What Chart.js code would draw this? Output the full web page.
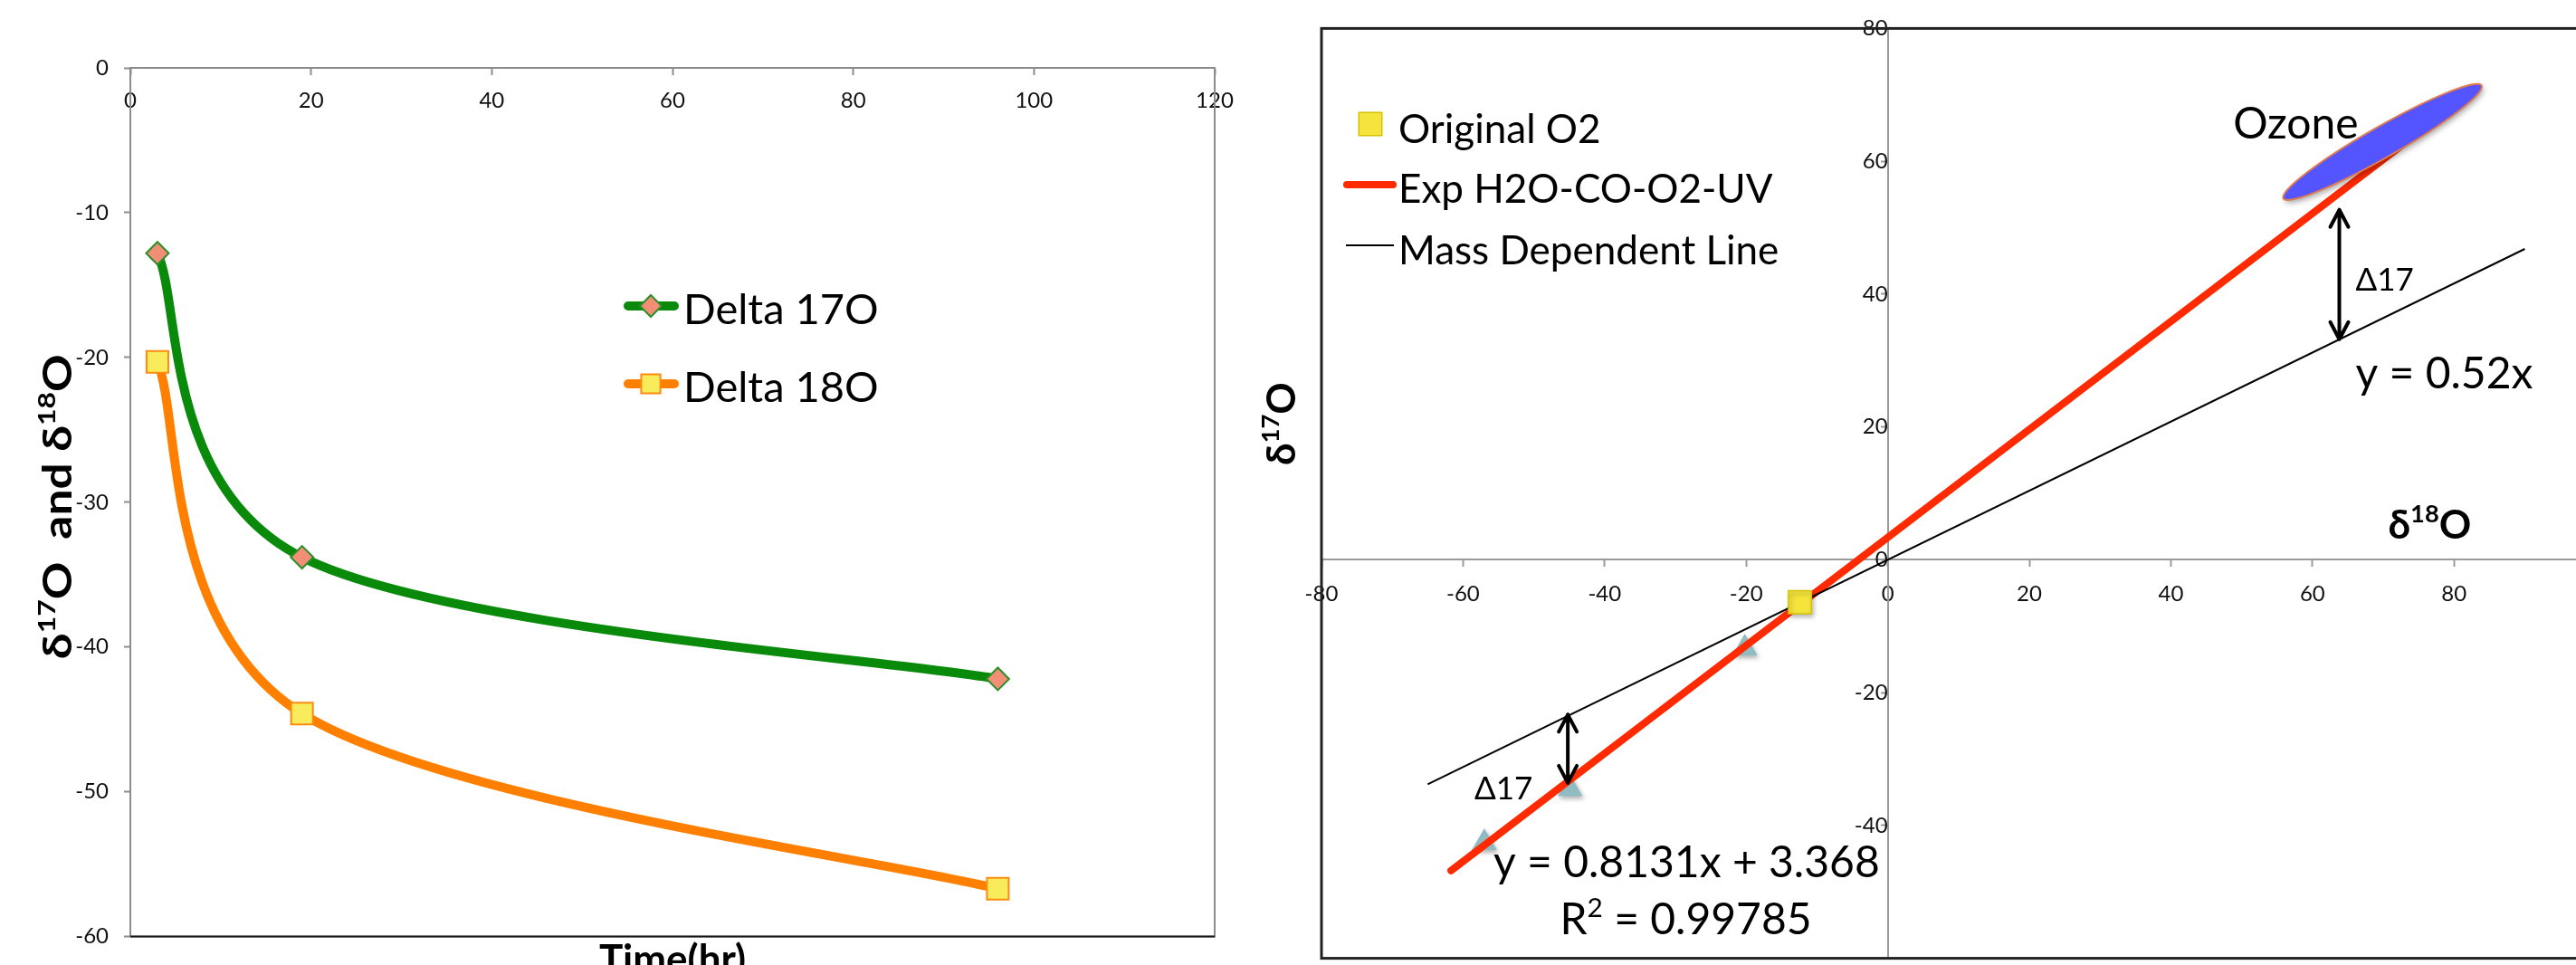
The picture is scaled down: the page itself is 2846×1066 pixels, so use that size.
<!DOCTYPE html>
<html>
<head>
<meta charset="utf-8">
<title>Oxygen isotope charts</title>
<script src="https://cdn.jsdelivr.net/npm/chart.js"></script>
<style>
  html, body { margin: 0; padding: 0; background: #fff; }
  body { width: 2846px; height: 1066px; overflow: hidden; position: relative; }
  canvas { position: absolute; top: 0; }
  #timeChart { left: 0; }
  #isoChart { left: 1380px; }
</style>
</head>
<body>
<canvas id="timeChart" width="1420" height="1066"></canvas>
<canvas id="isoChart" width="1520" height="1090"></canvas>
<script>
// left panel: delta values against time
const hours = [3, 19, 96];
const delta17 = [-12.8, -33.8, -42.2];
const delta18 = [-20.3, -44.6, -56.7];
const timeTicks = [0, 20, 40, 60, 80, 100, 120];
const deltaTicks = [0, -10, -20, -30, -40, -50, -60];

// right panel: three-isotope plot
const o2X = [-12.4];
const o2Y = [-6.4];
const expX = [-57.0, -44.9, -20.2];
const expY = [-42.6, -34.5, -13.3];
const fitX = [-61.7, 80.0];
const fitY = [-46.8, 68.4];
const mdlX = [-65.0, 90.0];
const mdlY = [-33.8, 46.8];
// the picture is cropped, so -60 and 100 fall outside it
const d18Ticks = [-80, -60, -40, -20, 0, 20, 40, 60, 80];
const d17Ticks = [-40, -20, 0, 20, 40, 60, 80];

// drawn shapes on the right panel, in data units
const ozoneEnds = { x: [55.9, 83.9], y: [54.4, 71.4] };
const arrows = [
  { x: -45.2, top: -23.3, bottom: -33.6 },
  { x: 63.8, top: 52.7, bottom: 33.2 }
];
const notes = [
  { parts: [['Ozone']], x: 48.8, y: 65.8, size: 48 },
  { parts: [['Δ17']], x: 66.1, y: 42.2, size: 35 },
  { parts: [['y = 0.52x']], x: 66.1, y: 28.2, size: 48 },
  { parts: [['Δ17']], x: -58.4, y: -34.4, size: 35 },
  { parts: [['y = 0.8131x + 3.368']], x: -55.7, y: -45.4, size: 48 },
  { parts: [['R'], ['2', 1], [' = 0.99785']], x: -46.3, y: -54.0, size: 48 },
  { parts: [['δ'], ['18', 1], ['O']], x: 70.7, y: 5.4, size: 44, weight: 'bold' }
];

const FONT = 'Lato, "Open Sans", sans-serif';
Chart.defaults.font.family = FONT;
Chart.defaults.color = '#111';
Chart.defaults.animation = false;

function toXY(xs, ys) {
  return xs.map((x, i) => ({ x: x, y: ys[i] }));
}

// rich text: parts are [text, isSuperscript]; y is the middle of the capitals
function partsWidth(ctx, parts, size, weight) {
  let w = 0;
  parts.forEach(([t, sup]) => {
    ctx.font = `${weight} ${sup ? size * 0.62 : size}px ${FONT}`;
    w += ctx.measureText(t).width;
  });
  return w;
}

function drawParts(ctx, parts, x, y, size, weight, align) {
  weight = weight || 'normal';
  const w = partsWidth(ctx, parts, size, weight);
  let cx = align === 'center' ? x - w / 2 : x;
  const base = y + size * 0.358;
  ctx.textAlign = 'left';
  ctx.textBaseline = 'alphabetic';
  parts.forEach(([t, sup]) => {
    ctx.font = `${weight} ${sup ? size * 0.62 : size}px ${FONT}`;
    ctx.fillText(t, cx, sup ? base - size * 0.4 : base);
    cx += ctx.measureText(t).width;
  });
}

function drawMarker(ctx, style, x, y, r, fill, stroke, lw) {
  ctx.beginPath();
  if (style === 'rectRot') {
    ctx.moveTo(x, y - r);
    ctx.lineTo(x + r, y);
    ctx.lineTo(x, y + r);
    ctx.lineTo(x - r, y);
    ctx.closePath();
  } else {
    const h = r * Math.SQRT1_2;
    ctx.rect(x - h, y - h, 2 * h, 2 * h);
  }
  ctx.fillStyle = fill;
  ctx.fill();
  if (lw) {
    ctx.lineWidth = lw;
    ctx.strokeStyle = stroke;
    ctx.stroke();
  }
}

// spreadsheet-style smoothing: control points at 1/6 of the neighbour span
const smoothLines = {
  id: 'smoothLines',
  beforeDatasetsDraw(chart) {
    chart.data.datasets.forEach((ds, i) => {
      if (!ds.showLine) return;
      const meta = chart.getDatasetMeta(i);
      meta.dataset.updateControlPoints(chart.chartArea, 'x');
      const pts = meta.data;
      pts.forEach((p, k) => {
        const a = pts[Math.max(k - 1, 0)];
        const b = pts[Math.min(k + 1, pts.length - 1)];
        const dx = (b.x - a.x) / 6, dy = (b.y - a.y) / 6;
        p.cp1x = p.x - dx; p.cp1y = p.y - dy;
        p.cp2x = p.x + dx; p.cp2y = p.y + dy;
      });
    });
  }
};

// soft drop shadow under marker-only series
const markerShadow = {
  id: 'markerShadow',
  beforeDatasetDraw(chart, args) {
    if (chart.data.datasets[args.index].showLine) return;
    const ctx = chart.ctx;
    ctx.save();
    ctx.shadowColor = 'rgba(0,0,0,0.3)';
    ctx.shadowBlur = 5;
    ctx.shadowOffsetX = 2;
    ctx.shadowOffsetY = 3;
  },
  afterDatasetDraw(chart, args) {
    if (chart.data.datasets[args.index].showLine) return;
    chart.ctx.restore();
  }
};

// ---------- left chart ----------
const leftDecor = {
  id: 'leftDecor',
  beforeDatasetsDraw(chart) {
    const { ctx, chartArea: a } = chart;
    ctx.save();
    ctx.strokeStyle = '#8c8c8c';
    ctx.lineWidth = 2;
    ctx.strokeRect(a.left, a.top, a.right - a.left, a.bottom - a.top);
    ctx.strokeStyle = '#1a1a1a';
    ctx.beginPath();
    ctx.moveTo(a.left, a.bottom);
    ctx.lineTo(a.right, a.bottom);
    ctx.stroke();
    ctx.restore();
  },
  afterDraw(chart) {
    const { ctx, chartArea: a } = chart;
    ctx.save();
    ctx.fillStyle = '#000';
    ctx.translate(63, (a.top + a.bottom) / 2 + 5);
    ctx.rotate(-Math.PI / 2);
    ctx.scale(1.17, 1);
    drawParts(ctx, [['δ'], ['17', 1], ['O  and δ'], ['18', 1], ['O']], 0, 0, 44, 'bold', 'center');
    ctx.restore();

    ctx.save();
    ctx.fillStyle = '#000';
    // axis title sits below the plot and is cut by the page edge
    drawParts(ctx, [['Time(hr)']], (a.left + a.right) / 2, a.bottom + 25, 44, 'bold', 'center');

    // legend inside the plot
    const rows = [338, 424];
    chart.data.datasets.forEach((ds, i) => {
      const y = rows[i];
      ctx.strokeStyle = ds.borderColor;
      ctx.lineWidth = 10;
      ctx.lineCap = 'round';
      ctx.beginPath();
      ctx.moveTo(694, y);
      ctx.lineTo(745, y);
      ctx.stroke();
      drawMarker(ctx, ds.pointStyle, 719, y, ds.pointStyle === 'rect' ? 15 : 12,
        ds.pointBackgroundColor, ds.pointBorderColor, ds.pointBorderWidth);
      ctx.fillStyle = '#000';
      drawParts(ctx, [[ds.label]], 755, y + 3, 47, 'normal', 'left');
    });
    ctx.restore();
  }
};

new Chart(document.getElementById('timeChart'), {
  type: 'scatter',
  data: {
    datasets: [
      {
        label: 'Delta 17O',
        data: toXY(hours, delta17),
        showLine: true,
        tension: 0.4,
        borderColor: '#0a8a0a',
        borderWidth: 10,
        pointStyle: 'rectRot',
        pointRadius: 12.5,
        pointBackgroundColor: '#f28e76',
        pointBorderColor: '#2a8f2a',
        pointBorderWidth: 2
      },
      {
        label: 'Delta 18O',
        data: toXY(hours, delta18),
        showLine: true,
        tension: 0.4,
        borderColor: '#ff8000',
        borderWidth: 10,
        pointStyle: 'rect',
        pointRadius: 17,
        pointBackgroundColor: '#f8ec5c',
        pointBorderColor: '#ff8a10',
        pointBorderWidth: 2
      }
    ]
  },
  options: {
    responsive: false,
    layout: { padding: { left: 0, top: 75, right: 78, bottom: 26 } },
    plugins: { legend: { display: false }, tooltip: { enabled: false } },
    scales: {
      x: {
        type: 'linear',
        position: { y: 0 },
        min: 0,
        max: 120,
        afterBuildTicks: s => { s.ticks = timeTicks.map(v => ({ value: v })); },
        grid: { drawOnChartArea: false, tickLength: 7, tickColor: '#8c8c8c', tickWidth: 2 },
        border: { color: '#8c8c8c', width: 2 },
        ticks: { font: { size: 24 }, color: '#111', padding: 15 }
      },
      y: {
        type: 'linear',
        position: 'left',
        min: -60,
        max: 0,
        afterBuildTicks: s => { s.ticks = deltaTicks.map(v => ({ value: v })); },
        afterFit: s => { s.width = 144; },
        grid: { drawOnChartArea: false, tickLength: 7, tickColor: '#8c8c8c', tickWidth: 2 },
        border: { color: '#8c8c8c', width: 2 },
        ticks: { font: { size: 24 }, color: '#111', padding: 17 }
      }
    }
  },
  plugins: [smoothLines, leftDecor]
});

// ---------- right chart ----------
const rightDecor = {
  id: 'rightDecor',
  beforeDatasetsDraw(chart) {
    const { ctx, chartArea: a } = chart;
    ctx.save();
    ctx.strokeStyle = '#222';
    ctx.lineWidth = 3;
    ctx.strokeRect(a.left, a.top, a.right - a.left, a.bottom - a.top);
    ctx.restore();
  },
  afterDatasetsDraw(chart) {
    const { ctx, scales: { x, y } } = chart;
    const x1 = x.getPixelForValue(ozoneEnds.x[0]), y1 = y.getPixelForValue(ozoneEnds.y[0]);
    const x2 = x.getPixelForValue(ozoneEnds.x[1]), y2 = y.getPixelForValue(ozoneEnds.y[1]);
    ctx.save();
    ctx.beginPath();
    ctx.ellipse((x1 + x2) / 2, (y1 + y2) / 2, Math.hypot(x2 - x1, y2 - y1) / 2, 17,
      Math.atan2(y2 - y1, x2 - x1), 0, Math.PI * 2);
    ctx.shadowColor = 'rgba(0,0,0,0.35)';
    ctx.shadowBlur = 6;
    ctx.shadowOffsetX = 2;
    ctx.shadowOffsetY = 3;
    ctx.fillStyle = '#5555ff';
    ctx.fill();
    ctx.shadowColor = 'transparent';
    ctx.strokeStyle = '#e07a50';
    ctx.lineWidth = 2;
    ctx.stroke();
    ctx.restore();
  },
  afterDraw(chart) {
    const { ctx, scales: { x, y } } = chart;
    ctx.save();
    // double headed arrows
    ctx.strokeStyle = '#000';
    ctx.lineWidth = 4;
    ctx.lineCap = 'round';
    ctx.lineJoin = 'round';
    arrows.forEach(ar => {
      const px = x.getPixelForValue(ar.x);
      const t = y.getPixelForValue(ar.top), b = y.getPixelForValue(ar.bottom);
      ctx.beginPath();
      ctx.moveTo(px, t);
      ctx.lineTo(px, b);
      ctx.moveTo(px - 10, t + 19);
      ctx.lineTo(px, t);
      ctx.lineTo(px + 10, t + 19);
      ctx.moveTo(px - 10, b - 19);
      ctx.lineTo(px, b);
      ctx.lineTo(px + 10, b - 19);
      ctx.stroke();
    });

    ctx.fillStyle = '#000';
    notes.forEach(n => {
      drawParts(ctx, n.parts, x.getPixelForValue(n.x), y.getPixelForValue(n.y), n.size, n.weight, 'left');
    });

    // vertical axis title
    ctx.save();
    ctx.translate(35, 468);
    ctx.rotate(-Math.PI / 2);
    drawParts(ctx, [['δ'], ['17', 1], ['O']], 0, 0, 44, 'bold', 'center');
    ctx.restore();

    // legend
    const ds = chart.data.datasets;
    drawMarker(ctx, 'rect', 134, 137, 18, ds[0].backgroundColor, ds[0].borderColor, 1.5);
    ctx.lineCap = 'round';
    ctx.strokeStyle = ds[2].borderColor;
    ctx.lineWidth = ds[2].borderWidth;
    ctx.beginPath();
    ctx.moveTo(108, 204);
    ctx.lineTo(159, 204);
    ctx.stroke();
    ctx.lineCap = 'butt';
    ctx.strokeStyle = ds[1].borderColor;
    ctx.lineWidth = ds[1].borderWidth;
    ctx.beginPath();
    ctx.moveTo(107, 271);
    ctx.lineTo(160, 271);
    ctx.stroke();
    ctx.fillStyle = '#000';
    drawParts(ctx, [[ds[0].label]], 165, 142, 44, 'normal', 'left');
    drawParts(ctx, [[ds[2].label]], 165, 208, 44, 'normal', 'left');
    drawParts(ctx, [[ds[1].label]], 165, 276, 44, 'normal', 'left');
    ctx.restore();
  }
};

new Chart(document.getElementById('isoChart'), {
  type: 'scatter',
  data: {
    datasets: [
      {
        label: 'Original O2',
        data: toXY(o2X, o2Y),
        pointStyle: 'rect',
        pointRadius: 18,
        backgroundColor: '#f4e43c',
        borderColor: '#d6c200',
        borderWidth: 1.5,
        order: 0
      },
      {
        label: 'Mass Dependent Line',
        data: toXY(mdlX, mdlY),
        showLine: true,
        borderColor: '#000',
        borderWidth: 2,
        pointRadius: 0,
        order: 1
      },
      {
        label: 'Exp H2O-CO-O2-UV',
        data: toXY(fitX, fitY),
        showLine: true,
        borderColor: '#ff2a00',
        borderWidth: 8,
        borderCapStyle: 'round',
        pointRadius: 0,
        order: 2
      },
      {
        label: 'Exp samples',
        data: toXY(expX, expY),
        pointStyle: 'triangle',
        pointRadius: 16,
        backgroundColor: '#8fbcc2',
        borderWidth: 0,
        order: 3
      }
    ]
  },
  options: {
    responsive: false,
    layout: { padding: { left: 80, top: 28, right: 32.4, bottom: 16.4 } },
    plugins: { legend: { display: false }, tooltip: { enabled: false } },
    scales: {
      x: {
        type: 'linear',
        position: { y: 0 },
        min: -80,
        max: 100,
        afterBuildTicks: s => { s.ticks = d18Ticks.map(v => ({ value: v })); },
        grid: { drawOnChartArea: false, tickLength: 7, tickColor: '#9a9a9a', tickWidth: 2 },
        border: { color: '#9a9a9a', width: 2 },
        ticks: { font: { size: 24 }, color: '#111', padding: 16 }
      },
      y: {
        type: 'linear',
        position: { x: 0 },
        min: -60,
        max: 80,
        afterBuildTicks: s => { s.ticks = d17Ticks.map(v => ({ value: v })); },
        grid: { drawOnChartArea: false, tickLength: 7, tickColor: '#9a9a9a', tickWidth: 2 },
        border: { color: '#9a9a9a', width: 2 },
        ticks: { font: { size: 24 }, color: '#111', padding: 17 }
      }
    }
  },
  plugins: [markerShadow, rightDecor]
});
</script>
</body>
</html>
